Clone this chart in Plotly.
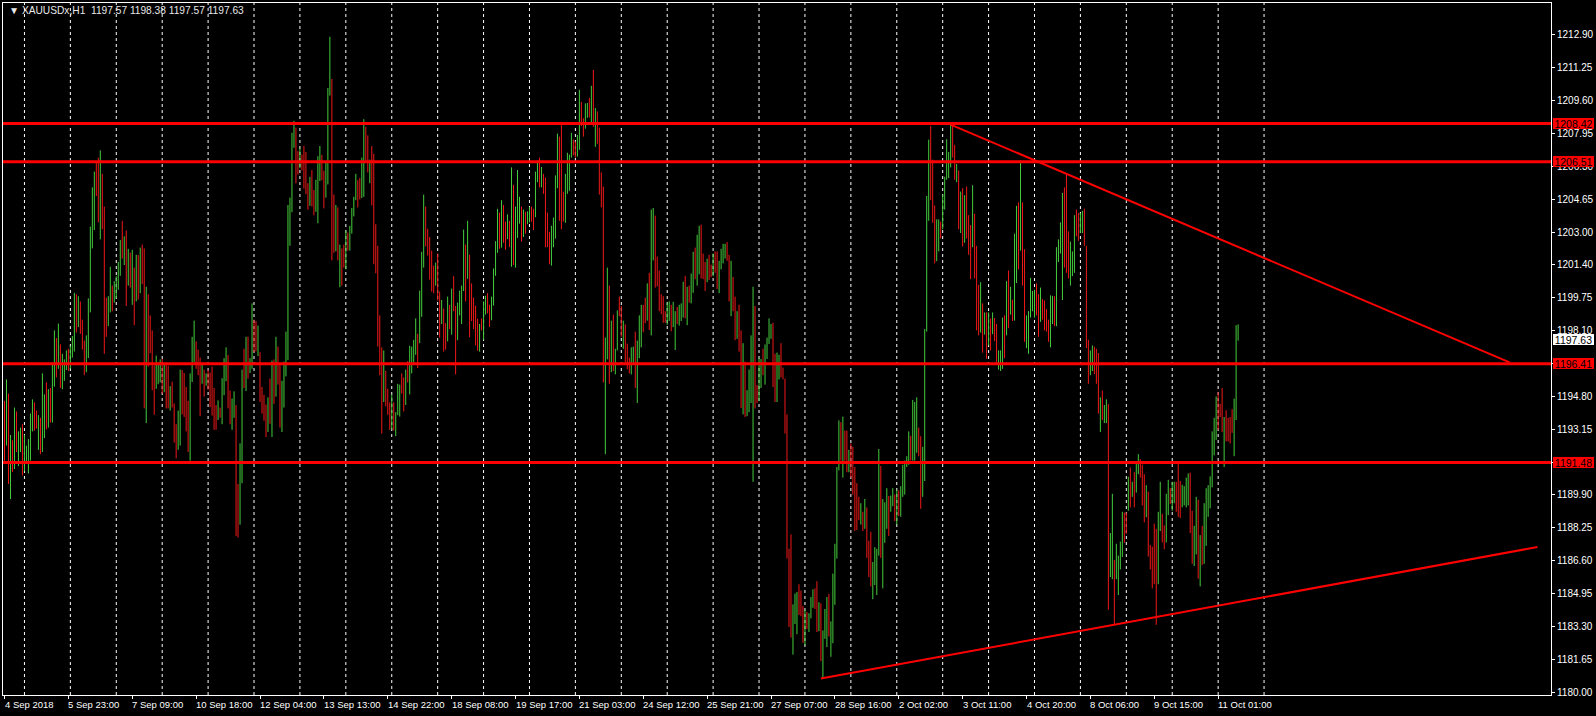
import plotly.graph_objects as go

# ---------------- data ----------------
SYMBOL_INFO = "XAUUSDx,H1  1197.57 1198.38 1197.57 1197.63"
FIRST_OPEN = 1194.30

HIGH = [
    1194.56, 1195.63, 1194.92, 1192.85, 1192.58, 1194.22, 1194.03, 1193.03, 1193.22, 1193.39,
    1192.85, 1192.32, 1192.64, 1193.92, 1194.63, 1194.48, 1194.07, 1193.84, 1193.71, 1195.93,
    1194.88, 1195.48, 1195.14, 1195.20, 1196.37, 1198.08, 1197.70, 1198.42, 1197.38, 1196.91,
    1196.63, 1197.08, 1197.16, 1197.29, 1197.80, 1199.96, 1199.89, 1199.79, 1199.53, 1198.62,
    1197.57, 1197.83, 1199.68, 1203.27, 1205.23, 1206.02, 1206.51, 1206.72, 1207.08, 1205.91,
    1204.27, 1199.72, 1199.79, 1201.26, 1200.32, 1200.54, 1200.79, 1201.50, 1202.60, 1203.56,
    1202.78, 1203.07, 1202.16, 1201.97, 1202.11, 1201.22, 1201.86, 1201.84, 1202.22, 1202.37,
    1202.18, 1200.26, 1199.89, 1198.83, 1198.08, 1196.33, 1196.82, 1196.48, 1196.63, 1196.65,
    1196.35, 1196.48, 1196.31, 1195.29, 1195.52, 1194.43, 1193.39, 1194.07, 1196.12,
    1196.10, 1195.95, 1195.25, 1194.56, 1195.93, 1197.76, 1198.57, 1197.53, 1197.12, 1196.72,
    1196.35, 1196.12, 1195.93, 1196.12, 1195.97, 1196.27, 1195.20, 1194.35, 1194.58, 1194.22,
    1195.69, 1196.69, 1197.23, 1196.84, 1195.07, 1194.67, 1195.03, 1194.35, 1190.40, 1192.43,
    1196.12, 1197.16, 1197.76, 1197.76, 1196.69, 1199.43, 1198.62, 1198.55, 1198.32, 1196.99,
    1195.25, 1194.86, 1194.37, 1194.73, 1195.67, 1196.57, 1196.63, 1197.76, 1197.27, 1196.35,
    1195.56, 1196.52, 1198.02, 1204.35, 1204.72, 1207.96, 1208.56, 1208.22, 1207.04, 1207.19,
    1206.87, 1207.30, 1207.00, 1205.44, 1205.76, 1206.10, 1205.10, 1205.61, 1206.79, 1207.30,
    1206.85, 1206.06, 1206.51, 1210.20, 1212.76, 1210.65, 1204.87, 1204.35, 1204.23, 1202.37,
    1202.18, 1202.37, 1203.05, 1202.97, 1203.31, 1204.20, 1204.76, 1205.91, 1205.59, 1205.70,
    1206.72, 1208.64, 1208.26, 1207.83, 1206.62, 1207.30, 1206.91, 1203.39, 1202.31, 1198.83,
    1197.23, 1197.08, 1196.05, 1195.16, 1194.48, 1194.88, 1194.48, 1193.99, 1195.41, 1195.37,
    1195.93, 1195.73, 1196.12, 1196.55, 1197.31, 1197.27, 1197.61, 1198.68, 1197.91, 1200.07,
    1202.01, 1204.87, 1204.27, 1203.16, 1202.75, 1202.07, 1201.32, 1201.47, 1201.92, 1200.02,
    1199.60, 1199.17, 1198.44, 1199.77, 1199.36, 1200.17, 1200.79, 1199.30, 1199.47, 1200.07,
    1200.32, 1203.12, 1202.37, 1203.56, 1201.86, 1200.43, 1199.72, 1199.32, 1198.66, 1198.40,
    1198.68, 1199.53, 1199.81, 1199.94, 1199.36, 1199.77, 1201.18, 1202.54, 1204.16, 1203.97,
    1204.59, 1204.35, 1203.52, 1203.88, 1203.56, 1206.23, 1205.36, 1204.27, 1206.10, 1204.76,
    1204.27, 1204.12, 1204.01, 1204.03, 1204.25, 1204.27, 1204.16, 1206.02, 1206.57, 1206.72,
    1206.25, 1205.91, 1205.72, 1203.97, 1203.01, 1203.31, 1203.72, 1205.83, 1207.92, 1207.77,
    1208.39, 1205.02, 1205.91, 1206.96, 1206.87, 1207.96, 1207.62, 1207.53, 1207.85, 1210.11,
    1209.50, 1208.69, 1209.43, 1209.45, 1209.71, 1210.31, 1211.10, 1209.20, 1209.03, 1208.22,
    1205.98, 1205.27, 1197.72, 1201.22, 1200.32, 1198.57, 1198.87, 1197.16, 1199.08, 1199.77,
    1199.30, 1198.57, 1198.38, 1197.42, 1196.72, 1197.23, 1197.27, 1198.02, 1197.57, 1198.83,
    1199.36, 1199.36, 1199.72, 1200.43, 1200.96, 1204.12, 1204.20, 1203.82, 1201.77, 1201.07,
    1199.89, 1199.79, 1199.04, 1199.47, 1199.53, 1199.36, 1199.51, 1199.04, 1199.25, 1199.36,
    1199.43, 1200.51, 1200.81, 1200.26, 1200.32, 1200.92, 1202.01, 1202.22, 1202.86, 1203.31,
    1203.37, 1201.92, 1201.50, 1201.67, 1201.86, 1201.37, 1201.92, 1202.03, 1202.03, 1201.56,
    1202.16, 1202.41, 1202.41, 1202.50, 1201.86, 1201.56, 1200.75, 1199.77, 1199.04, 1199.36,
    1198.08, 1197.44, 1196.52, 1195.09, 1196.12, 1197.83, 1200.26, 1199.30, 1195.35, 1196.69,
    1196.65, 1197.16, 1197.38, 1197.72, 1198.68, 1198.40, 1198.46, 1196.91, 1196.97, 1196.86,
    1197.44, 1196.22, 1195.67, 1193.88, 1187.16, 1187.88, 1184.38, 1184.92, 1185.00, 1185.39,
    1185.07, 1184.30, 1184.11, 1184.00, 1183.94, 1184.75, 1185.13, 1185.18, 1185.54, 1184.49,
    1184.43, 1183.08, 1184.15, 1184.75, 1184.90, 1183.53, 1185.92, 1187.41, 1191.25, 1193.58,
    1193.49, 1193.77, 1193.07, 1193.07, 1192.11, 1192.43, 1192.26, 1191.25, 1190.44, 1189.76,
    1189.44, 1189.01, 1189.65, 1189.23, 1187.56, 1188.01, 1186.50, 1187.24, 1187.16, 1192.15,
    1191.30, 1189.65, 1189.48, 1190.19, 1189.80, 1189.82, 1190.19, 1189.87, 1190.12, 1190.08,
    1190.29, 1191.36, 1191.57, 1191.79, 1193.03, 1192.81, 1194.60, 1194.50, 1194.73, 1193.22,
    1192.79, 1192.26, 1198.15, 1204.80, 1207.62, 1208.30, 1206.62, 1204.33, 1203.63, 1203.63,
    1203.52, 1204.87, 1205.76, 1207.64, 1207.00, 1208.37, 1208.32, 1207.36, 1206.40, 1206.08,
    1205.02, 1205.19, 1204.84, 1205.27, 1203.84, 1203.35, 1205.34, 1203.91, 1202.31, 1200.36,
    1200.49, 1199.43, 1198.98, 1198.98, 1198.98, 1198.68, 1198.98, 1198.70, 1198.40, 1197.08,
    1197.08, 1198.72, 1198.83, 1200.54, 1201.07, 1200.26, 1199.62, 1202.92, 1204.31, 1204.48,
    1206.57, 1204.48, 1202.14, 1198.83, 1199.04, 1200.71, 1200.05, 1200.11, 1200.43, 1199.89,
    1200.22, 1199.64, 1199.58, 1199.15, 1198.62, 1199.83, 1199.81, 1199.79, 1202.24, 1202.63,
    1203.48, 1204.95, 1205.23, 1205.93, 1203.03, 1202.52, 1202.03, 1203.84, 1204.12, 1203.95,
    1203.95, 1204.06, 1204.16, 1202.31, 1197.61, 1197.08, 1197.33, 1197.27, 1197.16, 1196.95,
    1194.73, 1195.07, 1194.35, 1194.63, 1194.39, 1187.95, 1189.91, 1186.60, 1187.41, 1186.82,
    1187.52, 1189.01, 1188.97, 1188.97, 1190.76, 1191.23, 1190.51, 1190.99, 1191.47, 1191.89,
    1191.64, 1191.36, 1190.89, 1190.34, 1190.02, 1187.35, 1187.26, 1188.42, 1188.16, 1189.01,
    1190.51, 1188.91, 1188.33, 1189.91, 1190.61, 1190.19, 1190.51, 1190.51, 1190.51, 1191.47,
    1190.55, 1190.36, 1190.29, 1190.72, 1190.93, 1190.97, 1189.06, 1188.31, 1189.76, 1189.61,
    1187.84, 1188.31, 1189.44, 1190.19, 1190.34, 1190.78, 1193.03, 1193.71, 1194.78, 1194.99,
    1194.41, 1195.20, 1193.75, 1194.09, 1193.71, 1193.75, 1194.14, 1194.67, 1198.34, 1198.38,
]

LOW = [
    1191.57, 1192.32, 1190.40, 1189.65, 1191.00, 1191.15, 1192.00, 1191.30, 1192.00, 1190.83,
    1191.04, 1191.53, 1190.93, 1191.57, 1193.03, 1193.07, 1193.17, 1192.11, 1191.89, 1192.00,
    1192.70, 1193.13, 1193.22, 1193.47, 1193.47, 1195.27, 1195.73, 1196.16, 1195.20, 1195.14,
    1195.56, 1196.10, 1196.05, 1196.16, 1196.72, 1197.02, 1197.97, 1198.25, 1197.91, 1197.12,
    1195.84, 1195.99, 1196.70, 1198.98, 1202.18, 1203.10, 1204.80, 1203.48, 1202.63, 1203.14,
    1196.91, 1197.76, 1198.29, 1198.98, 1199.04, 1199.47, 1199.68, 1200.11, 1200.81, 1201.67,
    1201.35, 1199.30, 1200.32, 1200.22, 1199.36, 1198.34, 1199.53, 1199.62, 1199.94, 1200.39,
    1194.18, 1193.45, 1196.27, 1196.95, 1195.09, 1193.86, 1195.16, 1195.39, 1195.48, 1194.92,
    1194.99, 1194.18, 1194.18, 1194.07, 1194.22, 1192.47, 1191.68, 1192.11, 1192.32,
    1193.88, 1193.75, 1193.03, 1192.00, 1191.57, 1195.50, 1196.48, 1196.16, 1195.84, 1193.79,
    1195.41, 1194.77, 1195.31, 1195.12, 1194.24, 1193.82, 1193.11, 1193.11, 1193.60, 1193.71,
    1193.39, 1194.84, 1195.54, 1194.18, 1193.39, 1193.11, 1193.71, 1187.80, 1187.73, 1188.37,
    1190.44, 1195.20, 1195.05, 1195.67, 1195.95, 1196.16, 1196.99, 1197.04, 1196.80, 1194.50,
    1193.92, 1193.56, 1192.75, 1193.00, 1193.41, 1192.75, 1194.41, 1194.77, 1195.37, 1193.22,
    1193.00, 1194.22, 1195.78, 1196.59, 1202.31, 1203.99, 1207.21, 1205.44, 1205.87, 1206.19,
    1206.08, 1205.17, 1204.89, 1204.12, 1204.31, 1204.27, 1203.84, 1204.01, 1203.44, 1205.55,
    1205.59, 1204.18, 1204.72, 1205.38, 1209.82, 1201.58, 1201.96, 1202.03, 1201.58, 1200.24,
    1200.32, 1201.22, 1201.13, 1202.07, 1202.07, 1202.92, 1203.78, 1204.59, 1204.23, 1204.63,
    1204.70, 1204.76, 1206.51, 1205.98, 1205.44, 1204.33, 1201.39, 1200.94, 1197.27, 1195.84,
    1192.92, 1194.50, 1194.28, 1193.86, 1193.11, 1193.11, 1193.07, 1192.79, 1193.84, 1193.77,
    1194.92, 1194.03, 1194.35, 1195.48, 1194.88, 1195.93, 1196.48, 1196.86, 1196.20, 1197.44,
    1198.76, 1201.22, 1202.28, 1201.82, 1200.62, 1200.02, 1199.94, 1200.32, 1199.57, 1197.72,
    1198.40, 1197.02, 1197.12, 1197.53, 1198.15, 1197.87, 1199.04, 1195.88, 1197.59, 1198.83,
    1198.40, 1200.05, 1199.53, 1200.66, 1197.74, 1198.55, 1198.15, 1197.33, 1197.06, 1197.02,
    1198.08, 1197.61, 1198.87, 1198.93, 1198.25, 1198.59, 1199.32, 1200.81, 1201.96, 1202.16,
    1202.22, 1202.46, 1202.11, 1202.65, 1202.24, 1201.26, 1201.35, 1201.22, 1202.71, 1203.42,
    1202.52, 1202.75, 1202.92, 1203.39, 1203.48, 1203.52, 1203.10, 1203.74, 1205.49, 1205.23,
    1205.23, 1204.91, 1202.24, 1202.24, 1201.39, 1201.32, 1202.24, 1202.67, 1205.19, 1203.56,
    1203.14, 1203.52, 1203.46, 1204.91, 1205.06, 1206.72, 1206.83, 1206.72, 1206.77, 1207.11,
    1208.30, 1207.77, 1208.17, 1208.71, 1208.73, 1208.43, 1208.26, 1207.26, 1207.41, 1204.87,
    1204.23, 1195.48, 1191.89, 1196.63, 1195.41, 1195.99, 1196.05, 1195.88, 1197.08, 1198.79,
    1197.76, 1197.16, 1196.48, 1196.14, 1195.93, 1195.88, 1196.48, 1195.20, 1194.45, 1196.69,
    1197.23, 1197.99, 1198.44, 1198.57, 1198.10, 1197.83, 1201.58, 1200.22, 1200.28, 1199.04,
    1198.89, 1198.46, 1198.46, 1198.36, 1198.55, 1198.04, 1198.25, 1197.10, 1198.40, 1198.32,
    1198.55, 1198.72, 1198.68, 1198.34, 1199.47, 1199.43, 1199.96, 1200.64, 1200.32, 1200.88,
    1200.68, 1200.64, 1200.05, 1200.49, 1200.60, 1200.75, 1200.79, 1200.96, 1200.15, 1199.94,
    1201.13, 1201.43, 1201.67, 1201.56, 1199.53, 1198.79, 1199.04, 1197.59, 1197.66, 1197.02,
    1194.20, 1193.88, 1193.75, 1193.79, 1193.99, 1194.45, 1190.51, 1194.18, 1194.45, 1194.56,
    1195.20, 1195.84, 1195.37, 1196.65, 1197.40, 1197.66, 1195.25, 1194.50, 1194.50, 1195.63,
    1195.73, 1195.63, 1192.92, 1186.67, 1183.25, 1182.72, 1181.87, 1183.40, 1182.89, 1183.85,
    1183.79, 1182.46, 1182.34, 1183.15, 1183.00, 1183.68, 1184.21, 1184.15, 1183.00, 1183.04,
    1181.55, 1180.67, 1182.66, 1182.25, 1182.78, 1181.76, 1182.44, 1184.36, 1186.67, 1191.08,
    1191.57, 1190.72, 1191.57, 1190.99, 1190.99, 1190.72, 1189.87, 1188.05, 1188.10, 1188.59,
    1188.37, 1188.05, 1188.16, 1186.71, 1185.75, 1185.28, 1184.64, 1185.35, 1184.85, 1186.82,
    1186.71, 1185.18, 1187.46, 1188.16, 1187.80, 1189.01, 1189.29, 1188.55, 1188.37, 1188.80,
    1188.76, 1189.76, 1189.87, 1191.25, 1191.36, 1191.57, 1191.57, 1191.57, 1191.96, 1191.79,
    1189.16, 1189.76, 1190.55, 1198.02, 1203.56, 1204.59, 1203.46, 1201.43, 1201.54, 1202.03,
    1202.67, 1203.14, 1204.12, 1205.61, 1205.70, 1206.23, 1206.72, 1205.61, 1205.49, 1203.14,
    1202.95, 1202.28, 1202.46, 1202.67, 1201.86, 1200.64, 1202.24, 1200.68, 1198.08, 1197.83,
    1197.97, 1196.97, 1197.87, 1196.65, 1197.33, 1197.08, 1197.89, 1197.55, 1196.48, 1196.12,
    1196.05, 1196.16, 1196.69, 1197.83, 1198.19, 1198.87, 1198.55, 1198.57, 1200.45, 1201.13,
    1202.07, 1200.32, 1197.51, 1197.19, 1196.91, 1198.72, 1199.04, 1198.72, 1198.83, 1197.76,
    1198.51, 1198.62, 1198.08, 1198.02, 1197.51, 1197.23, 1198.40, 1198.29, 1198.29, 1201.50,
    1201.92, 1199.60, 1201.22, 1200.96, 1200.68, 1200.32, 1200.79, 1200.96, 1202.78, 1202.56,
    1202.95, 1202.95, 1202.31, 1197.19, 1195.41, 1195.84, 1196.05, 1195.90, 1195.41, 1193.92,
    1193.00, 1193.60, 1193.45, 1193.45, 1184.11, 1185.75, 1185.64, 1183.36, 1185.64, 1184.85,
    1186.13, 1186.75, 1187.46, 1187.91, 1189.06, 1189.23, 1189.76, 1189.23, 1189.97, 1190.89,
    1190.72, 1189.33, 1188.48, 1188.74, 1186.77, 1186.13, 1185.18, 1185.39, 1183.36, 1185.39,
    1188.05, 1187.48, 1187.14, 1187.48, 1188.84, 1189.40, 1189.06, 1189.44, 1189.01, 1188.76,
    1188.70, 1189.23, 1189.33, 1189.23, 1189.33, 1187.95, 1186.41, 1186.30, 1186.88, 1185.66,
    1185.28, 1186.35, 1186.41, 1187.31, 1188.76, 1189.18, 1190.23, 1191.83, 1192.60, 1193.11,
    1193.75, 1193.00, 1191.25, 1192.53, 1192.53, 1192.43, 1192.96, 1191.79, 1193.60, 1197.57,
]

CLOSE = [
    1191.9, 1195.3, 1190.8, 1192.5, 1191.3, 1193.9, 1192.3, 1192.8, 1193.0, 1191.2,
    1192.0, 1192.2, 1192.5, 1193.6, 1194.4, 1193.5, 1193.3, 1193.7, 1192.2, 1194.4,
    1194.7, 1193.5, 1194.9, 1193.8, 1196.0, 1197.8, 1196.0, 1198.1, 1195.5, 1196.2,
    1196.5, 1196.9, 1196.3, 1197.1, 1197.6, 1199.6, 1198.3, 1199.5, 1198.2, 1197.4,
    1196.1, 1197.6, 1199.4, 1203.0, 1204.9, 1205.7, 1205.1, 1203.8, 1206.7, 1203.5,
    1198.8, 1198.0, 1199.5, 1201.0, 1199.3, 1200.3, 1200.6, 1201.3, 1202.3, 1202.0,
    1202.5, 1199.8, 1201.9, 1200.5, 1201.8, 1198.7, 1201.5, 1199.9, 1201.9, 1200.7,
    1194.8, 1199.0, 1197.6, 1197.2, 1195.5, 1194.2, 1196.0, 1196.3, 1196.5, 1195.2,
    1196.1, 1194.5, 1194.3, 1195.1, 1194.5, 1192.8, 1192.0, 1193.8, 1195.8,
    1194.2, 1194.0, 1193.3, 1192.3, 1195.6, 1197.5, 1198.3, 1196.4, 1196.1, 1194.1,
    1196.1, 1195.0, 1195.8, 1195.3, 1194.5, 1194.1, 1193.4, 1193.2, 1194.4, 1193.8,
    1195.4, 1196.4, 1197.0, 1194.5, 1193.7, 1194.4, 1194.8, 1188.2, 1188.0, 1192.1,
    1195.8, 1195.5, 1197.5, 1196.0, 1196.5, 1199.1, 1197.3, 1197.2, 1198.1, 1194.8,
    1194.2, 1193.8, 1193.0, 1194.5, 1193.7, 1196.3, 1194.7, 1197.5, 1195.7, 1193.5,
    1195.3, 1196.3, 1197.8, 1204.0, 1204.5, 1207.7, 1208.3, 1206.4, 1206.1, 1207.0,
    1206.2, 1205.5, 1205.2, 1204.4, 1205.5, 1204.6, 1204.1, 1205.4, 1206.5, 1207.0,
    1205.9, 1204.5, 1206.2, 1209.9, 1210.4, 1203.0, 1202.3, 1204.0, 1201.9, 1202.1,
    1201.8, 1201.4, 1202.8, 1202.3, 1203.1, 1204.0, 1204.6, 1205.7, 1205.0, 1204.8,
    1206.4, 1208.3, 1206.8, 1206.3, 1206.5, 1204.6, 1201.7, 1201.2, 1197.6, 1196.1,
    1193.3, 1196.8, 1194.6, 1194.1, 1193.4, 1194.6, 1193.3, 1193.8, 1195.2, 1195.3,
    1195.1, 1194.3, 1195.9, 1195.7, 1197.0, 1197.2, 1197.4, 1198.4, 1196.5, 1199.8,
    1201.7, 1204.5, 1202.6, 1202.1, 1200.9, 1200.3, 1200.2, 1201.2, 1199.9, 1198.0,
    1199.4, 1197.3, 1197.2, 1199.5, 1198.4, 1199.9, 1199.3, 1196.2, 1199.2, 1199.9,
    1200.1, 1202.8, 1199.9, 1203.2, 1199.2, 1198.8, 1198.4, 1197.6, 1197.3, 1198.2,
    1198.1, 1199.3, 1199.6, 1199.1, 1198.5, 1199.6, 1200.9, 1202.3, 1203.9, 1202.5,
    1204.3, 1202.8, 1202.4, 1203.7, 1202.5, 1205.9, 1201.7, 1204.0, 1204.3, 1204.6,
    1202.8, 1203.9, 1203.2, 1203.9, 1204.1, 1203.7, 1203.3, 1205.7, 1206.4, 1205.5,
    1206.0, 1205.1, 1202.6, 1202.4, 1201.7, 1203.0, 1203.5, 1205.5, 1207.6, 1203.9,
    1203.8, 1203.6, 1205.6, 1206.7, 1206.8, 1207.7, 1207.0, 1206.9, 1207.6, 1209.8,
    1208.5, 1208.0, 1209.2, 1209.4, 1208.9, 1210.0, 1208.6, 1209.0, 1207.7, 1205.2,
    1204.5, 1196.0, 1197.4, 1200.9, 1195.8, 1198.3, 1196.4, 1197.0, 1199.05, 1198.95,
    1198.0, 1198.4, 1196.8, 1196.4, 1196.1, 1197.0, 1197.2, 1195.5, 1197.3, 1198.6,
    1199.1, 1198.8, 1198.6, 1200.2, 1198.4, 1203.8, 1204.0, 1200.5, 1200.4, 1199.3,
    1199.1, 1198.7, 1198.5, 1199.3, 1199.4, 1198.3, 1198.8, 1198.95, 1198.6, 1199.2,
    1199.3, 1200.3, 1199.0, 1200.0, 1199.7, 1200.7, 1201.8, 1200.9, 1202.6, 1203.0,
    1201.0, 1200.9, 1200.3, 1201.5, 1200.9, 1200.8, 1201.7, 1201.2, 1200.4, 1201.3,
    1202.0, 1202.2, 1202.3, 1201.8, 1199.8, 1201.3, 1199.3, 1197.9, 1198.8, 1197.3,
    1194.5, 1197.1, 1194.1, 1194.9, 1195.9, 1197.5, 1199.0, 1194.6, 1194.5, 1196.4,
    1196.5, 1196.1, 1197.1, 1197.5, 1198.0, 1198.3, 1195.6, 1194.8, 1196.7, 1196.8,
    1196.0, 1195.8, 1193.2, 1187.1, 1183.6, 1183.0, 1184.1, 1184.7, 1184.9, 1184.1,
    1184.0, 1182.8, 1183.8, 1183.4, 1183.7, 1184.5, 1184.9, 1184.4, 1183.3, 1184.2,
    1181.9, 1182.8, 1183.9, 1184.5, 1183.1, 1183.3, 1185.6, 1187.1, 1190.9, 1193.3,
    1191.9, 1193.5, 1191.9, 1191.3, 1191.9, 1191.0, 1190.2, 1189.6, 1189.1, 1188.8,
    1189.2, 1188.3, 1189.4, 1187.0, 1186.0, 1185.6, 1186.3, 1187.0, 1187.1, 1191.8,
    1187.0, 1189.4, 1189.45, 1190.0, 1188.1, 1189.6, 1190.0, 1188.8, 1189.9, 1189.0,
    1190.1, 1191.1, 1191.4, 1191.7, 1192.8, 1191.8, 1194.3, 1194.4, 1194.6, 1192.0,
    1189.5, 1192.0, 1197.8, 1204.5, 1207.3, 1204.9, 1203.8, 1201.7, 1203.4, 1203.5,
    1202.9, 1204.6, 1205.5, 1206.5, 1206.8, 1208.1, 1207.0, 1205.9, 1206.2, 1203.5,
    1204.7, 1202.6, 1204.5, 1203.0, 1202.2, 1201.0, 1205.0, 1201.0, 1198.4, 1198.1,
    1200.2, 1197.3, 1198.8, 1197.0, 1198.7, 1197.4, 1198.8, 1197.8, 1196.8, 1196.9,
    1197.0, 1198.4, 1197.0, 1200.3, 1198.5, 1200.0, 1198.8, 1202.6, 1204.0, 1201.5,
    1206.2, 1200.7, 1197.9, 1198.6, 1198.8, 1199.7, 1199.9, 1200.0, 1199.1, 1198.1,
    1200.0, 1198.9, 1198.4, 1198.2, 1197.8, 1199.5, 1199.7, 1198.6, 1201.9, 1202.4,
    1203.2, 1204.6, 1201.6, 1201.3, 1201.0, 1201.6, 1201.9, 1203.5, 1203.1, 1202.9,
    1203.7, 1203.9, 1202.6, 1197.5, 1195.7, 1196.9, 1197.1, 1196.2, 1195.7, 1194.2,
    1194.5, 1193.9, 1194.2, 1194.4, 1185.0, 1187.6, 1189.6, 1183.8, 1186.2, 1186.6,
    1187.3, 1188.8, 1188.5, 1188.1, 1190.5, 1189.5, 1190.3, 1189.5, 1191.2, 1191.7,
    1191.0, 1189.6, 1188.8, 1190.1, 1187.1, 1186.4, 1186.0, 1185.7, 1183.7, 1188.7,
    1190.2, 1187.8, 1187.4, 1189.6, 1190.4, 1189.6, 1190.3, 1190.4, 1189.3, 1189.0,
    1188.9, 1190.1, 1190.2, 1190.5, 1190.7, 1188.3, 1186.7, 1188.1, 1189.5, 1186.0,
    1187.6, 1186.7, 1189.2, 1190.0, 1190.2, 1190.6, 1192.8, 1193.5, 1194.5, 1194.1,
    1193.9, 1193.3, 1193.5, 1193.3, 1193.2, 1193.1, 1193.0, 1194.4, 1197.57, 1197.63,
]

# time-axis labels and the bar index each one sits on
X_LABELS = ["4 Sep 2018", "5 Sep 23:00", "7 Sep 09:00", "10 Sep 18:00", "12 Sep 04:00",
            "13 Sep 13:00", "14 Sep 22:00", "18 Sep 08:00", "19 Sep 17:00", "21 Sep 03:00",
            "24 Sep 12:00", "25 Sep 21:00", "27 Sep 07:00", "28 Sep 16:00", "2 Oct 02:00",
            "3 Oct 11:00", "4 Oct 20:00", "8 Oct 06:00", "9 Oct 15:00", "11 Oct 01:00"]
X_LABEL_BARS = [0, 32, 64, 96, 128, 160, 192, 224, 256, 288,
                320, 352, 384, 416, 448, 480, 512, 544, 576, 608]
GRID_BARS = [10, 33, 56, 79, 102, 125, 148, 171, 194, 217, 240, 263, 286, 309,
             332, 355, 378, 401, 424, 447, 470, 493, 516, 539, 562, 585, 608, 631]

Y_TICKS = [1180.00, 1181.65, 1183.30, 1184.95, 1186.60, 1188.25, 1189.90, 1191.50,
           1193.15, 1194.80, 1196.45, 1198.10, 1199.75, 1201.40, 1203.00, 1204.65,
           1206.30, 1207.95, 1209.60, 1211.25, 1212.90]

LEVELS = [1208.42, 1206.51, 1196.41, 1191.48]          # horizontal lines
TRENDLINES = [(474, 1208.37, 754, 1196.48),             # (bar, price, bar, price)
              (409, 1180.67, 768, 1187.25)]
LAST_PRICE = 1197.63

# ---------------- styling ----------------
W, H = 1596, 716
ML, MR, MT, MB = 2, 43, 2, 21
BG = "#000000"
FG = "#FFFFFF"
UP = "#44CC3C"
DN = "#F01818"
LINE_RED = "#FF0000"
FONT = "Liberation Sans"

n = len(CLOSE)
assert len(HIGH) == n and len(LOW) == n, (len(HIGH), len(LOW), n)
opens = [FIRST_OPEN] + CLOSE[:-1]
xs = list(range(n))

fig = go.Figure()
fig.add_trace(go.Ohlc(
    x=xs, open=opens, high=HIGH, low=LOW, close=CLOSE,
    increasing=dict(line=dict(color=UP, width=1)),
    decreasing=dict(line=dict(color=DN, width=1)),
    tickwidth=0, hoverinfo="skip", showlegend=False,
))

shapes = []
for g in GRID_BARS:
    shapes.append(dict(type="line", xref="x", yref="paper", x0=g, x1=g, y0=0, y1=1,
                       line=dict(color=FG, width=1, dash="3px,3px"), layer="below"))
for lv in LEVELS:
    shapes.append(dict(type="line", xref="paper", yref="y", x0=0, x1=1, y0=lv, y1=lv,
                       line=dict(color=LINE_RED, width=3), layer="above"))
for (b0, p0, b1, p1) in TRENDLINES:
    shapes.append(dict(type="line", xref="x", yref="y", x0=b0, x1=b1, y0=p0, y1=p1,
                       line=dict(color=LINE_RED, width=2), layer="above"))

plot_w = W - ML - MR
box_x = (1555 - ML) / plot_w

annotations = []
for lab, b in zip(X_LABELS, X_LABEL_BARS):
    annotations.append(dict(x=b, y=0, xref="x", yref="paper", text=lab, showarrow=False,
                            xanchor="left", yanchor="top", xshift=-2, yshift=-2,
                            font=dict(family=FONT, size=9.5, color=FG)))
for lv in LEVELS:
    annotations.append(dict(x=box_x, y=lv, xref="paper", yref="y", text=f"{lv:.2f}",
                            showarrow=False, xanchor="left", yanchor="middle",
                            bgcolor=LINE_RED, borderpad=0, borderwidth=0,
                            width=41, height=11, align="center",
                            font=dict(family=FONT, size=10.5, color="#000000")))
annotations.append(dict(x=box_x, y=LAST_PRICE, xref="paper", yref="y", text=f"{LAST_PRICE:.2f}",
                        showarrow=False, xanchor="left", yanchor="middle",
                        bgcolor="#FFFFFF", borderpad=0, borderwidth=0,
                        width=41, height=11, align="center",
                        font=dict(family=FONT, size=10.5, color="#000000")))
annotations.append(dict(x=(6 - ML) / plot_w, y=1, xref="paper", yref="paper",
                        text="\u25BC " + SYMBOL_INFO, showarrow=False,
                        xanchor="left", yanchor="top", yshift=0,
                        font=dict(family=FONT, size=10.2, color="#E8E8E8")))

px_per_bar = 2.0
x0 = -(3.5 - ML) / px_per_bar
x1 = x0 + plot_w / px_per_bar

fig.update_layout(
    width=W, height=H,
    margin=dict(l=ML, r=MR, t=MT, b=MB, pad=0),
    paper_bgcolor=BG, plot_bgcolor=BG,
    shapes=shapes, annotations=annotations,
    showlegend=False, hovermode=False,
    xaxis=dict(range=[x0, x1], rangeslider=dict(visible=False), showgrid=False,
               zeroline=False, showline=True, mirror=True, linecolor=FG, linewidth=1,
               ticks="outside", ticklen=3, tickcolor=FG, tickwidth=1,
               tickmode="array", tickvals=X_LABEL_BARS, showticklabels=False,
               fixedrange=True),
    yaxis=dict(range=[1179.85, 1214.45], side="right", showgrid=False, zeroline=False,
               showline=True, mirror=True, linecolor=FG, linewidth=1,
               ticks="outside", ticklen=3, tickcolor=FG, tickwidth=1,
               tickmode="array", tickvals=Y_TICKS, ticktext=[f"{v:.2f}" for v in Y_TICKS],
               tickfont=dict(family=FONT, size=10, color=FG), fixedrange=True),
)

fig.write_html(
    "out.html",
    config={"displayModeBar": False, "staticPlot": True},
    post_script="document.body.style.margin='0px';document.body.style.padding='0px';"
                "document.body.style.background='#000';",
)
